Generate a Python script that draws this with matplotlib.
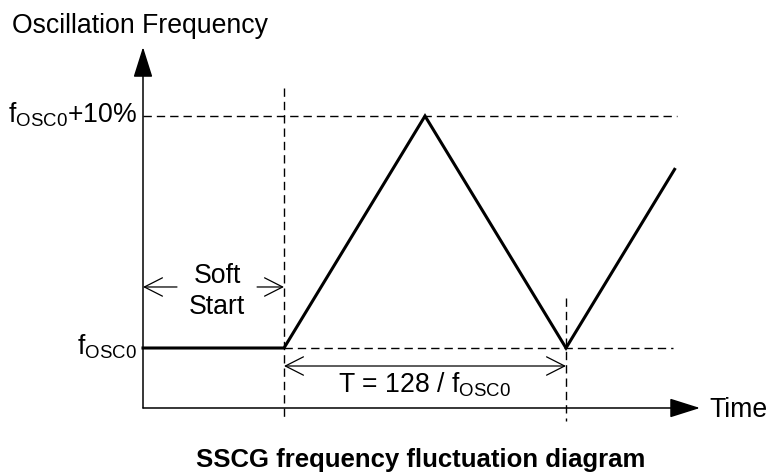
import matplotlib
matplotlib.use("Agg")
import matplotlib.pyplot as plt

plt.rcParams['font.family'] = ['Liberation Sans', 'DejaVu Sans']
plt.rcParams['mathtext.fontset'] = 'custom'
plt.rcParams['mathtext.rm'] = 'Liberation Sans'
plt.rcParams['mathtext.it'] = 'Liberation Sans:italic'
plt.rcParams['mathtext.bf'] = 'Liberation Sans:bold'

# Data (time in half-periods, frequency deviation in %)
time_pts = [0, 1, 2, 3, 3.77]
freq_pts = [0, 0, 10, 0, 7.7]
soft_start_end = 1
period_start, period_end = 1, 3
peak_freq = 10
label_top = r'f$_{\mathrm{OSC0}}$+10%'
label_base = r'f$_{\mathrm{OSC0}}$'
period_label = r'T = 128 / f$_{\mathrm{OSC0}}$'

fig = plt.figure(figsize=(7.69, 4.74), dpi=100)
ax = fig.add_axes([0, 0, 1, 1])
ax.set_xlim(-1.0142, 4.4397)
ax.set_ylim(-5.431, 15.0)
ax.axis('off')

fs = 19.2
x_axis_y = -2.586

# Axes with filled arrowheads
ax.annotate('', xy=(0, 12.97), xytext=(0, x_axis_y),
            arrowprops=dict(arrowstyle='-|>,head_length=0.95,head_width=0.3',
                            mutation_scale=20, lw=1.1, color='black',
                            shrinkA=0, shrinkB=0))
ax.annotate('', xy=(3.95, x_axis_y), xytext=(0, x_axis_y),
            arrowprops=dict(arrowstyle='-|>,head_length=0.95,head_width=0.3',
                            mutation_scale=20, lw=1.1, color='black',
                            shrinkA=0, shrinkB=0))

dash = (0, (6, 3.6))
# Dashed reference lines
ax.plot([0, 3.79], [peak_freq, peak_freq], color='black', lw=1.0, linestyle=dash)
ax.plot([period_start, 3.76], [0, 0], color='black', lw=1.0, linestyle=dash)
ax.plot([soft_start_end, soft_start_end], [11.21, -3.15], color='black', lw=1.0, linestyle=dash)
ax.plot([period_end, period_end], [2.155, -3.15], color='black', lw=1.0, linestyle=dash)

# Frequency waveform
ax.plot(time_pts, freq_pts, color='black', lw=2.2, solid_joinstyle='miter')

# Dimension arrows
open_arrow = dict(arrowstyle='->,head_length=0.65,head_width=0.33',
                  mutation_scale=20, lw=0.9, color='black', shrinkA=0, shrinkB=0)
ax.annotate('', xy=(0, 2.63), xytext=(0.241, 2.63), arrowprops=open_arrow)
ax.annotate('', xy=(soft_start_end, 2.63), xytext=(0.809, 2.63), arrowprops=open_arrow)
ax.annotate('', xy=(period_start, -0.776), xytext=(period_end, -0.776),
            arrowprops=dict(open_arrow, arrowstyle='<->,head_length=0.65,head_width=0.33'))

# Texts
ax.text(-0.929, 13.58, 'Oscillation Frequency', fontsize=fs, ha='left', va='baseline')
ax.text(-0.0426, 9.74, label_top, fontsize=fs, ha='right', va='baseline')
ax.text(-0.0426, -0.30, label_base, fontsize=fs, ha='right', va='baseline')
ax.text(0.525, 2.80, 'Soft', fontsize=fs, ha='center', va='baseline')
ax.text(0.525, 1.466, 'Start', fontsize=fs, ha='center', va='baseline')
ax.text(1.993, -1.897, period_label, fontsize=fs, ha='center', va='baseline')
ax.text(4.02, -2.974, 'Time', fontsize=fs, ha='left', va='baseline')
ax.text(1.972, -5.129, 'SSCG frequency fluctuation diagram', fontsize=18.5,
        fontweight='bold', ha='center', va='baseline')

fig.savefig('out.png', dpi=100)
